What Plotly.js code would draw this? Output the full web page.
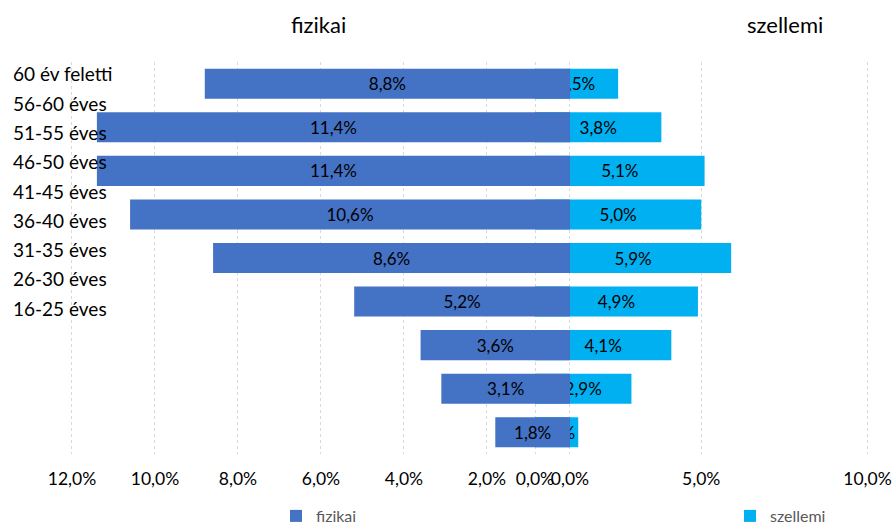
<!DOCTYPE html>
<html><head><meta charset="utf-8">
<script src="https://cdn.plot.ly/plotly-3.0.1.min.js"></script>
<style>html,body{margin:0;padding:0;background:#fff}#chart{width:893px;height:525px}</style>
</head><body><div id="chart"></div>
<script>
const categories = ["60 év feletti","56-60 éves","51-55 éves","46-50 éves","41-45 éves","36-40 éves","31-35 éves","26-30 éves","16-25 éves"];
const fizikai = [8.8, 11.4, 11.4, 10.6, 8.6, 5.2, 3.6, 3.1, 1.8];
const szellemi = [2.5, 3.8, 5.1, 5.0, 5.9, 4.9, 4.1, 2.9, 1.3];
const fizikaiTicks = [0, 2, 4, 6, 8, 10, 12];
const szellemiTicks = [0, 5, 10];
const seriesNames = ["fizikai", "szellemi"];

const FONT = "Lato, 'Open Sans', sans-serif";
const fmt = v => v.toFixed(1).replace('.', ',') + '%';
const labelIdx = categories.map((c, i) => i);

const traces = [
  {
    type: 'bar', orientation: 'h', name: seriesNames[1], legend: 'legend2',
    x: szellemi, y: categories, xaxis: 'x', yaxis: 'y',
    marker: {color: '#00B0F0'},
    text: szellemi.map(fmt), textposition: 'inside', insidetextanchor: 'middle',
    textangle: 0, constraintext: 'none',
    insidetextfont: {family: FONT, size: 17, color: '#000'},
    hoverinfo: 'skip'
  },
  {
    type: 'bar', orientation: 'h', name: seriesNames[0], legend: 'legend',
    x: fizikai, y: categories, xaxis: 'x2', yaxis: 'y',
    marker: {color: '#4472C4'},
    text: fizikai.map(fmt), textposition: 'inside', insidetextanchor: 'middle',
    textangle: 0, constraintext: 'none',
    insidetextfont: {family: FONT, size: 17, color: '#000'},
    hoverinfo: 'skip'
  },
  {
    type: 'scatter', mode: 'markers', x: labelIdx.map(() => null), y: labelIdx,
    xaxis: 'x', yaxis: 'y2', showlegend: false, hoverinfo: 'skip',
    marker: {opacity: 0}
  }
];

const L = 12, R = 13, T = 62, B = 71, W = 893, H = 525;
const pw = W - L - R, ph = H - T - B;
const px2x = p => (p - L) / pw;
const py2y = p => (H - B - p) / ph;

const gridStyle = {showgrid: true, gridcolor: '#D9D9D9', griddash: 'dot', gridwidth: 1,
  zeroline: false, showline: false, ticks: '', automargin: false, fixedrange: true};

const layout = {
  width: W, height: H,
  margin: {l: L, r: R, t: T, b: B, autoexpand: false},
  paper_bgcolor: '#fff', plot_bgcolor: 'rgba(0,0,0,0)',
  separators: ', ',
  font: {family: FONT, color: '#000'},
  barmode: 'overlay', bargap: 0.31,
  xaxis: Object.assign({}, gridStyle, {
    domain: [px2x(60), 1], range: [-14.286, 10.376],
    tickvals: szellemiTicks, ticktext: szellemiTicks.map(fmt),
    tickfont: {family: FONT, size: 17.5, color: '#000'}, ticklabelstandoff: 12
  }),
  xaxis2: Object.assign({}, gridStyle, {
    overlaying: 'x', anchor: 'y', side: 'bottom',
    range: [12.289, -7.470],
    tickvals: fizikaiTicks, ticktext: fizikaiTicks.map(fmt),
    tickfont: {family: FONT, size: 17.5, color: '#000'}, ticklabelstandoff: 12
  }),
  yaxis: {domain: [0, 1], autorange: 'reversed', showticklabels: false, showgrid: false,
    zeroline: false, showline: false, ticks: '', automargin: false, fixedrange: true},
  yaxis2: {overlaying: 'y', anchor: 'free', position: 0, side: 'right',
    range: [12.946, -0.433], tickvals: labelIdx, ticktext: categories,
    showgrid: false, zeroline: false, showline: false, ticks: '', automargin: false,
    tickfont: {family: FONT, size: 19, color: '#000'}, fixedrange: true},
  legend: {x: px2x(276), xanchor: 'left', y: py2y(516), yanchor: 'middle', orientation: 'h',
    font: {family: FONT, size: 16, color: '#595959'}, bgcolor: 'rgba(0,0,0,0)'},
  legend2: {x: px2x(730), xanchor: 'left', y: py2y(516), yanchor: 'middle', orientation: 'h',
    font: {family: FONT, size: 16, color: '#595959'}, bgcolor: 'rgba(0,0,0,0)'},
  annotations: [
    {text: seriesNames[0], xref: 'paper', yref: 'paper', x: px2x(318), y: py2y(25),
     xanchor: 'center', yanchor: 'middle',
     showarrow: false, font: {family: FONT, size: 22, color: '#000'}},
    {text: seriesNames[1], xref: 'paper', yref: 'paper', x: px2x(785), y: py2y(25),
     xanchor: 'center', yanchor: 'middle',
     showarrow: false, font: {family: FONT, size: 22, color: '#000'}}
  ]
};

Plotly.newPlot('chart', traces, layout, {displayModeBar: false, staticPlot: true});
</script>
</body></html>
